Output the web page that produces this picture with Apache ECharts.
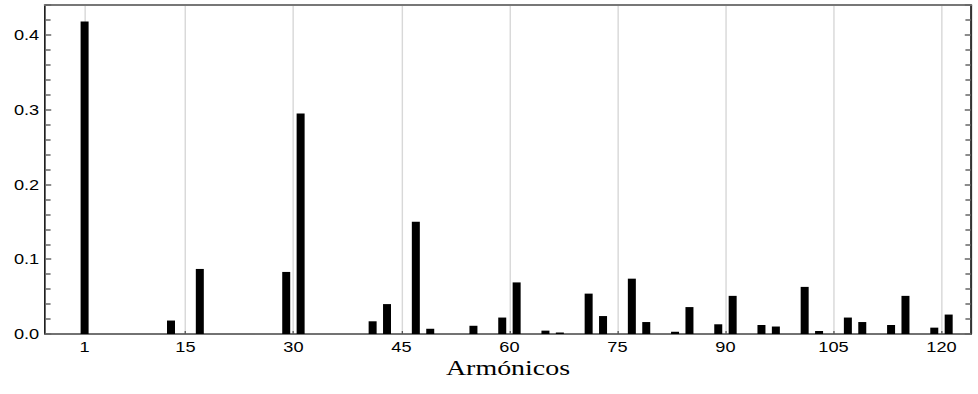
<!DOCTYPE html>
<html>
<head>
<meta charset="utf-8">
<title>Armónicos</title>
<script src="https://cdn.jsdelivr.net/npm/echarts@6/dist/echarts.min.js"></script>
<style>
  html, body { margin: 0; padding: 0; background: #fff; overflow: hidden; }
  /* the figure is drawn narrower and stretched horizontally */
  #wrap { width: 978px; height: 394px; overflow: hidden; }
  #chart { width: 752.3px; height: 394px; transform: scaleX(1.3); transform-origin: 0 0; }
</style>
</head>
<body>
<div id="wrap"><div id="chart"></div></div>
<script>
// Harmonic orders and their amplitudes
const harmonics = [1, 13, 17, 29, 31, 41, 43, 47, 49, 55, 59, 61, 65, 67, 71, 73,
                   77, 79, 83, 85, 89, 91, 95, 97, 101, 103, 107, 109, 113, 115, 119, 121];
const amplitudes = [0.418, 0.018, 0.087, 0.083, 0.295, 0.017, 0.040, 0.150, 0.007, 0.011,
                    0.022, 0.069, 0.0045, 0.002, 0.054, 0.024, 0.074, 0.016, 0.003, 0.036,
                    0.013, 0.051, 0.012, 0.010, 0.063, 0.004, 0.022, 0.016, 0.012, 0.051,
                    0.0085, 0.026];
// Labelled harmonic orders on the horizontal axis
const xTickValues = [1, 15, 30, 45, 60, 75, 90, 105, 120];
const xAxisTitle = 'Armónicos';

const sx = 1.3; // horizontal stretch applied by CSS

const chart = echarts.init(document.getElementById('chart'), null, { renderer: 'svg' });

const yCommon = {
  type: 'value',
  min: 0,
  max: 0.44,
  interval: 0.1,
  splitLine: { show: false },
  minorTick: { show: true, splitNumber: 5, length: 4.3, lineStyle: { color: '#666', width: 1.5 } },
  axisTick: { show: true, inside: true, length: 4.8, lineStyle: { color: '#666', width: 1.5 } }
};

chart.setOption({
  animation: false,
  grid: { left: 45 / sx, top: 5, width: 926 / sx, height: 329, containLabel: false },
  xAxis: [
    {
      type: 'value',
      min: -4.5,
      max: 124.1,
      position: 'bottom',
      name: xAxisTitle,
      nameLocation: 'middle',
      nameGap: 26,
      nameMoveOverlap: false,
      nameTextStyle: { fontFamily: 'Liberation Serif', fontSize: 21.5, lineHeight: 16, color: '#000' },
      axisLine: { show: true, onZero: false, lineStyle: { color: '#444', width: 1.5 } },
      axisTick: { show: true, inside: true, length: 3, customValues: xTickValues,
                  lineStyle: { color: '#555', width: 1 } },
      axisLabel: { customValues: xTickValues, margin: 7, fontFamily: 'Liberation Sans',
                   fontSize: 14, lineHeight: 12, color: '#000' },
      splitLine: { show: true, lineStyle: { color: '#d8d8d8', width: 1.1 } }
    },
    {
      type: 'value',
      min: -4.5,
      max: 124.1,
      position: 'top',
      axisLine: { show: true, onZero: false, lineStyle: { color: '#777', width: 2 } },
      axisTick: { show: false },
      axisLabel: { show: false },
      splitLine: { show: false }
    }
  ],
  yAxis: [
    Object.assign({}, yCommon, {
      position: 'left',
      axisLine: { show: true, onZero: false, lineStyle: { color: '#111', width: 1.2 } },
      axisLabel: { margin: 4.5, fontFamily: 'Liberation Sans', fontSize: 14, color: '#000',
                   showMaxLabel: false, formatter: v => v.toFixed(1) }
    }),
    Object.assign({}, yCommon, {
      position: 'right',
      axisLine: { show: true, onZero: false, lineStyle: { color: '#333', width: 1.6 } },
      axisLabel: { show: false }
    })
  ],
  series: [
    {
      type: 'bar',
      xAxisIndex: 0,
      yAxisIndex: 0,
      barWidth: 8 / sx,
      itemStyle: { color: '#000' },
      data: harmonics.map((h, i) => [h, amplitudes[i]])
    }
  ]
});
</script>
</body>
</html>
